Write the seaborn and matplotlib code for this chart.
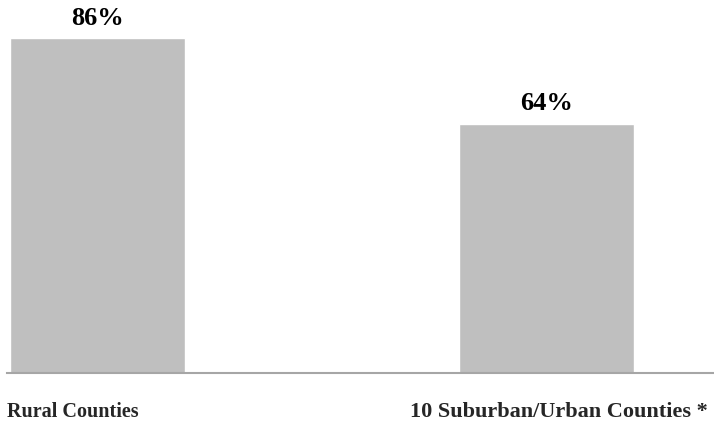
import pandas as pd
import seaborn as sns
import matplotlib.pyplot as plt

categories = ['Rural Counties', '10 Suburban/Urban Counties *']
values = [86, 64]
value_labels = ['86%', '64%']

df = pd.DataFrame({'group': categories, 'pct': values})

sns.set_style('white')
plt.rcParams['font.family'] = ['Liberation Serif', 'DejaVu Serif']

fig = plt.figure(figsize=(7.14, 4.25), dpi=100)
ax = fig.add_axes([0.0098, 0.1224, 0.9902, 0.8776])

sns.barplot(data=df, x='group', y='pct', color='#BFBFBF', saturation=1,
            width=0.39, ax=ax)

ax.bar_label(ax.containers[0], labels=value_labels, padding=6,
             fontsize=19, fontweight='bold', color='black')

ax.set_ylim(0, 95.8)
ax.set_xlim(-0.201, 1.372)
ax.set_xlabel('')
ax.set_ylabel('')
ax.set_yticks([])
ax.set_xticks([])
for side in ['top', 'right', 'left']:
    ax.spines[side].set_visible(False)
ax.spines['bottom'].set_color('#A6A6A6')
ax.spines['bottom'].set_linewidth(1.5)

# category labels under the axis line
ax.text(0.0, -0.105, categories[0], transform=ax.transAxes, ha='left', va='center',
        fontsize=14.5, fontweight='bold')
ax.text(0.570, -0.105, categories[1], transform=ax.transAxes, ha='left', va='center',
        fontsize=16, fontweight='bold')

fig.savefig('out.png', dpi=100)
plt.close(fig)
